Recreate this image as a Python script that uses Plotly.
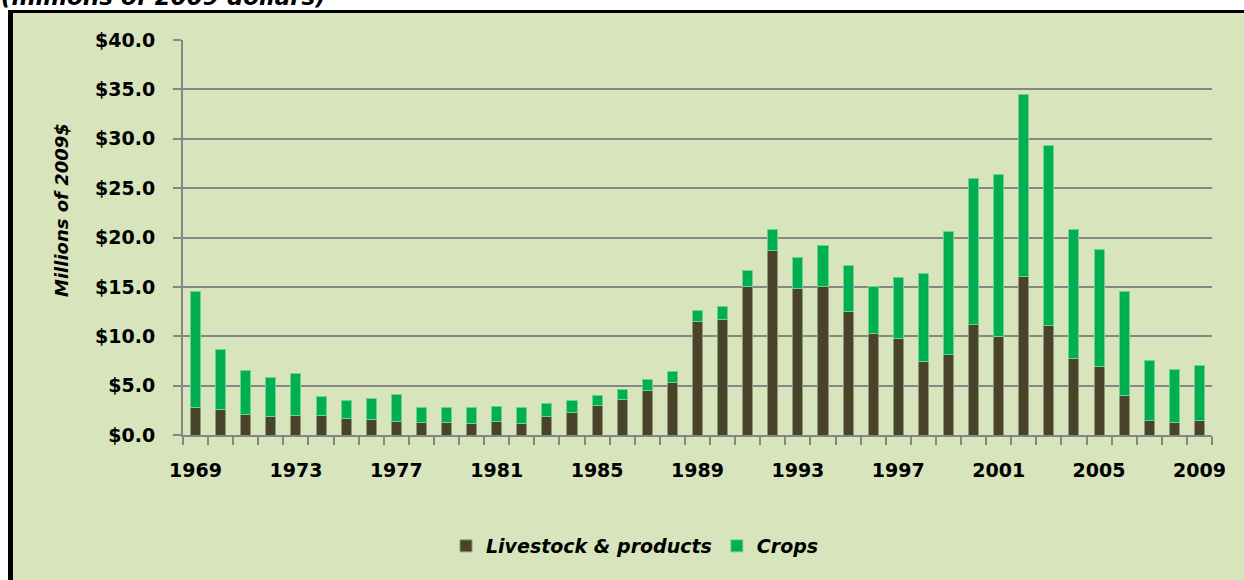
import plotly.graph_objects as go

years = [str(y) for y in range(1969, 2010)]
livestock = [2.8, 2.6, 2.1, 1.9, 2.0, 2.0, 1.65, 1.6, 1.4, 1.3, 1.3, 1.2, 1.35, 1.2,
             1.86, 2.3, 3.0, 3.6, 4.55, 5.35, 11.45, 11.65, 15.0, 18.7, 14.8, 15.05,
             12.5, 10.3, 9.8, 7.45, 8.2, 11.2, 9.95, 16.05, 11.1, 7.75, 6.95, 4.05,
             1.45, 1.25, 1.5]
totals = [14.55, 8.7, 6.5, 5.85, 6.2, 3.85, 3.45, 3.65, 4.15, 2.8, 2.75, 2.75, 2.85, 2.75,
          3.15, 3.5, 4.05, 4.6, 5.65, 6.4, 12.6, 13.0, 16.65, 20.85, 18.0, 19.15,
          17.2, 15.05, 15.95, 16.4, 20.65, 26.0, 26.4, 34.5, 29.3, 20.8, 18.75, 14.5,
          7.5, 6.6, 7.0]
crops = [round(t - l, 2) for t, l in zip(totals, livestock)]
tick_labels = [y if (int(y) - 1969) % 4 == 0 else "" for y in years]

W, H = 1244, 580
L, R, T, B = 183, 32, 40, 145
PW, PH = W - L - R, H - T - B

def px(x):
    return (x - L) / PW

def py(y):
    return (H - B - y) / PH

FONT = "DejaVu Sans"
BG = "#D8E4BC"
GRID = "#868686"

fig = go.Figure()
fig.add_trace(go.Bar(x=years, y=livestock, name="Livestock & products",
                     marker=dict(color="#4A432B", line=dict(color="#8E9A7C", width=1))))
fig.add_trace(go.Bar(x=years, y=crops, name="Crops",
                     marker=dict(color="#00B050", line=dict(color="#6FD38F", width=1))))

fig.update_layout(
    width=W, height=H,
    barmode="stack", bargap=0.6,
    paper_bgcolor="white", plot_bgcolor="rgba(0,0,0,0)",
    margin=dict(l=L, r=R, t=T, b=B, pad=0),
    font=dict(family=FONT, color="black"),
    showlegend=True,
    legend=dict(orientation="h", x=px(635), xanchor="center", y=py(546), yanchor="middle",
                font=dict(size=19, family=FONT, weight="bold", style="italic"),
                bgcolor="rgba(0,0,0,0)", traceorder="normal"),
    shapes=[
        dict(type="rect", xref="paper", yref="paper",
             x0=px(8), x1=px(1300), y0=py(700), y1=py(10),
             fillcolor=BG, line=dict(width=0), layer="below"),
        dict(type="line", xref="paper", yref="paper",
             x0=px(10.5), x1=px(10.5), y0=py(700), y1=py(10),
             line=dict(color="black", width=5), layer="below"),
        dict(type="line", xref="paper", yref="paper",
             x0=px(8), x1=px(1300), y0=py(11.5), y1=py(11.5),
             line=dict(color="black", width=3), layer="below"),
    ],
    annotations=[
        dict(text="(millions of 2009 dollars)", xref="paper", yref="paper",
             x=px(-1), xanchor="left", y=py(12), yanchor="bottom", showarrow=False,
             font=dict(size=23, family=FONT, color="black", weight="bold", style="italic")),
        dict(text="Millions of 2009$", xref="paper", yref="paper", textangle=-90,
             x=px(62), xanchor="center", y=py(210), yanchor="middle", showarrow=False,
             font=dict(size=18, family=FONT, color="black", weight="bold", style="italic")),
    ],
)
fig.update_xaxes(
    type="category", tickmode="array", tickvals=years, ticktext=tick_labels,
    tickson="boundaries", ticks="outside", ticklen=8, tickwidth=2, tickcolor=GRID,
    showline=True, linecolor=GRID, linewidth=2, showgrid=False,
    tickfont=dict(size=19, family=FONT, weight="bold"), tickangle=0, ticklabelstandoff=17,
)
fig.update_yaxes(
    range=[0, 40], dtick=5, tickprefix="$", tickformat=".1f",
    ticks="outside", ticklen=8, tickwidth=2, tickcolor=GRID,
    showgrid=True, gridcolor=GRID, gridwidth=2,
    showline=True, linecolor=GRID, linewidth=2, zeroline=False,
    tickfont=dict(size=19, family=FONT, weight="bold"), ticklabelstandoff=14,
)
fig.write_html("out.html", config={"displayModeBar": False},
               post_script="document.body.style.margin='0';")
